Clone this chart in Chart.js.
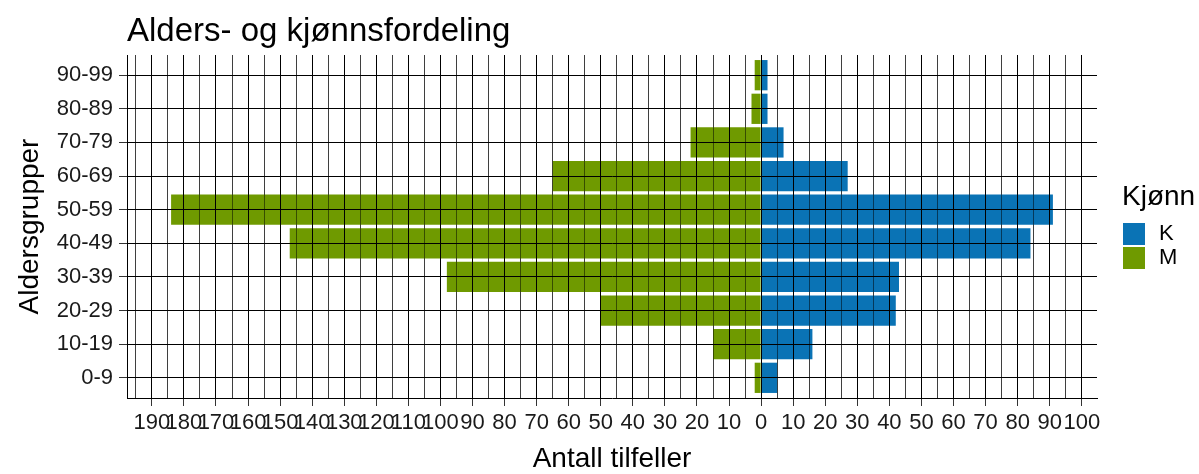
<!DOCTYPE html>
<html>
<head>
<meta charset="utf-8">
<script src="https://cdn.jsdelivr.net/npm/chart.js@4/dist/chart.umd.min.js"></script>
<style>
  html, body { margin: 0; padding: 0; background: #fff; }
  #wrap { width: 1199px; height: 474px; }
</style>
</head>
<body>
<div id="wrap"><canvas id="pyramid" width="1199" height="474"></canvas></div>
<script>
// age groups, bottom to top
const ageGroups = ["0-9", "10-19", "20-29", "30-39", "40-49", "50-59", "60-69", "70-79", "80-89", "90-99"];
// women (K) and men (M), men drawn to the left as negative counts
const kvinner = [5, 16, 42, 43, 84, 91, 27, 7, 2, 2];
const menn = [2, 15, 50, 98, 147, 184, 65, 22, 3, 2];
// x tick values every 5, labelled every 10
const xTicks = [];
for (let v = -195; v <= 100; v += 5) xTicks.push(v);

const blue = "#0A73B5";
const green = "#6F9A00";
const font = "'Liberation Sans', Arial, sans-serif";

// draw the grid again on top of the bars, like the ggplot original
const gridOnTop = {
  id: "gridOnTop",
  afterDatasetsDraw(chart) {
    chart.scales.x.drawGrid(chart.chartArea);
    chart.scales.y.drawGrid(chart.chartArea);
  },
};

const sideLegend = {
  id: "sideLegend",
  afterDraw(chart) {
    const ctx = chart.ctx;
    ctx.save();
    ctx.fillStyle = "#000";
    ctx.textBaseline = "middle";
    ctx.textAlign = "left";
    ctx.font = "28px " + font;
    ctx.fillText("Kjønn", 1122, 197);
    ctx.font = "22px " + font;
    chart.data.datasets.forEach((ds, i) => {
      const top = 223 + i * 24;
      ctx.fillStyle = ds.backgroundColor;
      ctx.fillRect(1123, top, 22, 22);
      ctx.fillStyle = "#000";
      ctx.fillText(ds.label, 1159, top + 11);
    });
    ctx.restore();
  },
};

new Chart(document.getElementById("pyramid"), {
  type: "bar",
  data: {
    datasets: [
      {
        label: "K",
        data: kvinner.map((v, i) => ({ x: v, y: i })),
        backgroundColor: blue,
        borderWidth: 0,
      },
      {
        label: "M",
        data: menn.map((v, i) => ({ x: -v, y: i })),
        backgroundColor: green,
        borderWidth: 0,
      },
    ],
  },
  options: {
    indexAxis: "y",
    responsive: false,
    animation: false,
    barPercentage: 0.9,
    categoryPercentage: 1.0,
    layout: { padding: { left: 0, right: 102, top: 0, bottom: 0 } },
    plugins: {
      legend: { display: false },
      tooltip: { enabled: false },
      title: {
        display: true,
        text: "Alders- og kjønnsfordeling",
        align: "start",
        fullSize: false,
        color: "#000",
        font: { family: font, size: 33, weight: "normal", lineHeight: 1.2 },
        padding: { top: 12, bottom: 3.4 },
      },
    },
    scales: {
      x: {
        type: "linear",
        stacked: true,
        min: -197.75,
        max: 104.75,
        afterBuildTicks: (scale) => {
          scale.ticks = xTicks.map((v) => ({ value: v }));
        },
        afterFit: (scale) => {
          scale.height = 76;
        },
        ticks: {
          autoSkip: false,
          maxRotation: 0,
          minRotation: 0,
          padding: 4,
          color: "#1a1a1a",
          font: { family: font, size: 22 },
          callback: (v) => (v % 10 === 0 ? String(Math.abs(v)) : ""),
        },
        grid: {
          color: (ctx) => (ctx.tick && ctx.tick.value % 10 === 0 ? "#000" : "rgba(0,0,0,0.5)"),
          tickColor: (ctx) => (ctx.tick && ctx.tick.value % 10 === 0 ? "#333" : "rgba(0,0,0,0)"),
          tickLength: 8,
          lineWidth: 1,
        },
        border: { display: true, color: "#000", width: 1 },
        title: {
          display: true,
          text: "Antall tilfeller",
          color: "#000",
          font: { family: font, size: 28, lineHeight: 1 },
          padding: { top: 2, bottom: 1 },
        },
      },
      y: {
        type: "linear",
        stacked: true,
        offset: false,
        min: -0.6,
        max: 9.6,
        afterBuildTicks: (scale) => {
          scale.ticks = ageGroups.map((_, i) => ({ value: i }));
        },
        afterFit: (scale) => {
          scale.width = 127;
        },
        ticks: {
          autoSkip: false,
          padding: 6,
          color: "#1a1a1a",
          font: { family: font, size: 22 },
          callback: (v) => ageGroups[v],
        },
        grid: {
          offset: false,
          color: "#000",
          tickColor: "#333",
          tickLength: 8,
          lineWidth: 1,
        },
        border: { display: true, color: "#000", width: 1 },
        title: {
          display: true,
          text: "Aldersgrupper",
          color: "#000",
          font: { family: font, size: 28, lineHeight: 1 },
          padding: { top: 16, bottom: 2 },
        },
      },
    },
  },
  plugins: [gridOnTop, sideLegend],
});
</script>
</body>
</html>
